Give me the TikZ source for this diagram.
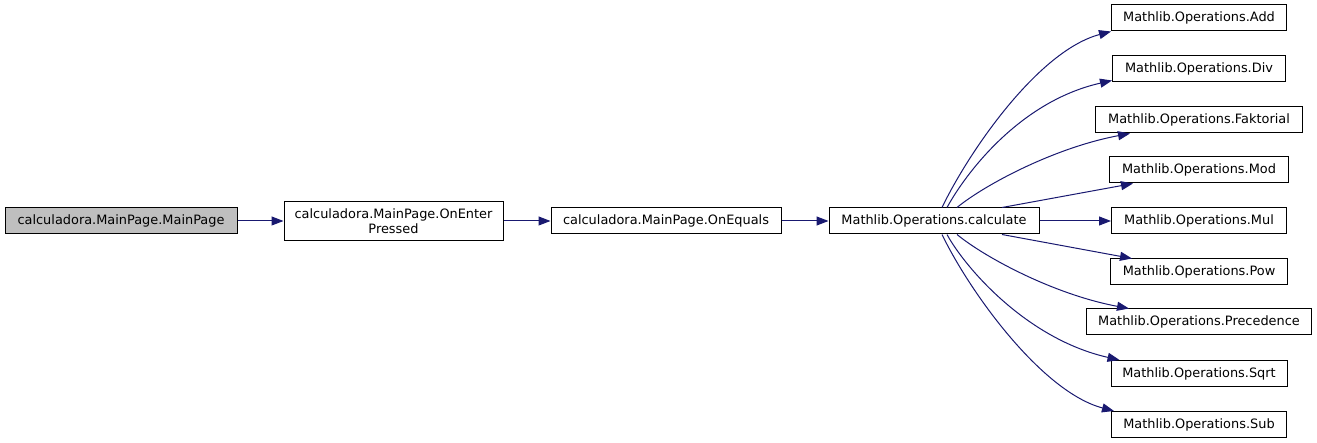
\documentclass[tikz,border=0pt]{standalone}
\usepackage{fontspec}
\setsansfont{DejaVu Sans}
\usepackage{xcolor}
\usetikzlibrary{arrows.meta}

\definecolor{callblue}{HTML}{191970}
\definecolor{rootgray}{HTML}{BFBFBF}

\begin{document}
\begin{tikzpicture}[x=1pt,y=-1pt,font=\sffamily\fontsize{12.9}{15}\selectfont,
    fn/.style={draw,line width=1pt,inner sep=0pt,minimum height=26pt,align=center},
    call/.style={draw=callblue,line width=1pt,-{Triangle[length=12pt,width=9pt]}}]
    \useasboundingbox (0,0) rectangle (1317,443);

    \node[fn,fill=rootgray,minimum width=232pt] (mainpage) at (121,221) {calculadora.MainPage.MainPage};
    \node[fn,minimum width=219pt,minimum height=39pt] (enter) at (393.5,221) {calculadora.MainPage.OnEnter\\Pressed};
    \node[fn,minimum width=230pt] (equals) at (666,221) {calculadora.MainPage.OnEquals};
    \node[fn,minimum width=210pt] (calc) at (934,221) {Mathlib.Operations.calculate};

    \foreach \op/\ypos/\boxw in {Add/18/175, Div/69/173, Faktorial/120/207, Mod/170/179, Mul/221/175,
                                 Pow/272/177, Precedence/322/225, Sqrt/373.5/176, Sub/424.5/175} {
        \node[fn,minimum width=\boxw pt] (\op) at (1199,\ypos) {Mathlib.Operations.\op};
    }

    \draw[call] (mainpage) -- (enter);
    \draw[call] (enter) -- (equals);
    \draw[call] (equals) -- (calc);
    \draw[call] (calc) -- (Mul);

    % upper fan
    \draw[call] ([xshift=8pt]calc.north) .. controls +(28,-58) and +(-72,19) .. (Add.south west);
    \draw[call] ([xshift=13pt]calc.north) .. controls +(18,-33) and +(-93,21) .. ([yshift=2pt]Div.south west);
    \draw[call] ([xshift=23pt]calc.north) .. controls +(28,-23) and +(-75,14) .. ([xshift=35pt]Faktorial.south west);
    \draw[call] ([xshift=68pt]calc.north) -- ([xshift=24pt]Mod.south west);

    % lower fan
    \draw[call] ([xshift=68pt]calc.south) -- ([xshift=22pt]Pow.north west);
    \draw[call] ([xshift=23pt]calc.south) .. controls +(28,23) and +(-75,-14) .. ([xshift=43pt]Precedence.north west);
    \draw[call] ([xshift=13pt]calc.south) .. controls +(18,33) and +(-93,-21) .. ([xshift=9pt]Sqrt.north west);
    \draw[call] ([xshift=8pt]calc.south) .. controls +(28,58) and +(-72,-19) .. ([xshift=3pt]Sub.north west);
\end{tikzpicture}
\end{document}
